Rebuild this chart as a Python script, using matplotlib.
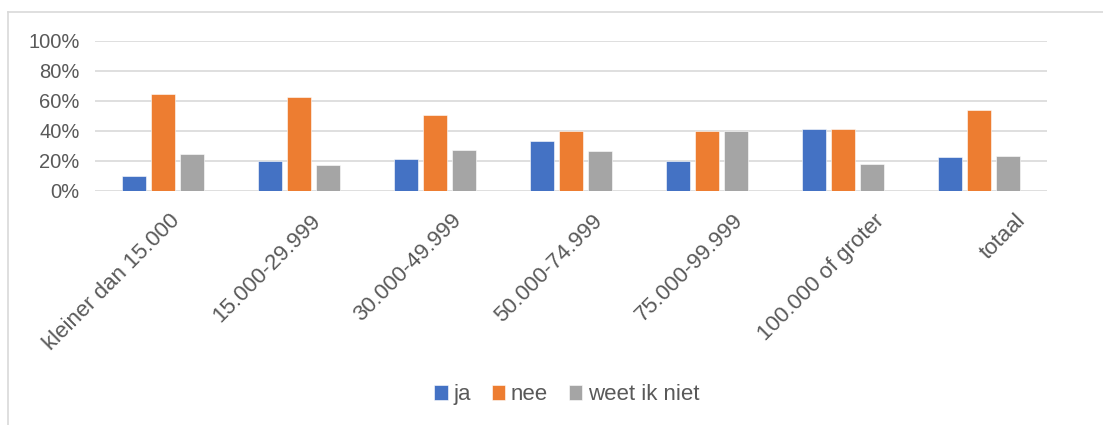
import matplotlib
matplotlib.use("Agg")
import matplotlib.pyplot as plt
from matplotlib.lines import Line2D
from matplotlib.ticker import PercentFormatter
from matplotlib.transforms import ScaledTranslation
import numpy as np

categories = ["kleiner dan 15.000", "15.000-29.999", "30.000-49.999",
              "50.000-74.999", "75.000-99.999", "100.000 of groter", "totaal"]
ja = [0.10, 0.20, 0.21, 0.33, 0.20, 0.41, 0.225]
nee = [0.647, 0.625, 0.507, 0.40, 0.40, 0.41, 0.538]
weet_niet = [0.247, 0.17, 0.27, 0.263, 0.40, 0.175, 0.23]
series_names = ["ja", "nee", "weet ik niet"]
colors = ["#4472C4", "#ED7D31", "#A5A5A5"]

plt.rcParams['font.family'] = ['Liberation Sans', 'DejaVu Sans']
text_col = "#595959"
grid_col = "#D9D9D9"

fig = plt.figure(figsize=(11.03, 4.25), dpi=100)
ax = fig.add_axes([0.0861, 0.5513, 0.863, 0.3529])

x = np.arange(len(categories))
w = 0.175
step = 0.215
for i, (vals, name, c) in enumerate(zip([ja, nee, weet_niet], series_names, colors)):
    ax.bar(x + (i - 1) * step, vals, w, color=c, label=name, zorder=3,
           edgecolor="white", linewidth=0.4)

ax.set_xlim(-0.5, len(categories) - 0.5)
ax.set_ylim(0, 1)
ax.set_yticks(np.arange(0, 1.01, 0.2))
ax.yaxis.set_major_formatter(PercentFormatter(1.0, decimals=0))
ax.grid(axis="y", color=grid_col, linewidth=1.2, zorder=0)
for s in ax.spines.values():
    s.set_visible(False)
ax.tick_params(axis="both", length=0, colors=text_col)
ax.tick_params(axis="y", pad=11, labelsize=14.5)
ax.set_xticks(x)
ax.set_xticklabels(categories, rotation=45, ha="right", rotation_mode="anchor",
                   fontsize=16)
ax.tick_params(axis="x", pad=14)
# excel spreads the rotated labels a bit wider than the bars
for i, lab in enumerate(ax.get_xticklabels()):
    shift = ScaledTranslation((6 + 5 * i) / 100, 0, fig.dpi_scale_trans)
    lab.set_transform(lab.get_transform() + shift)

leg = fig.legend(loc="center", bbox_to_anchor=(0.514, 0.071), ncol=3,
                 frameon=False, fontsize=16, handlelength=0.6,
                 handleheight=0.6, handletextpad=0.25, columnspacing=0.95)
for t in leg.get_texts():
    t.set_color(text_col)

# chart border
top = 1 - 12 / 425
left = 8 / 1103
fig.add_artist(Line2D([left, 1], [top, top], color=grid_col, lw=1.2,
                      transform=fig.transFigure))
fig.add_artist(Line2D([left, left], [0, top], color=grid_col, lw=1.2,
                      transform=fig.transFigure))

fig.savefig("out.png", dpi=100)
